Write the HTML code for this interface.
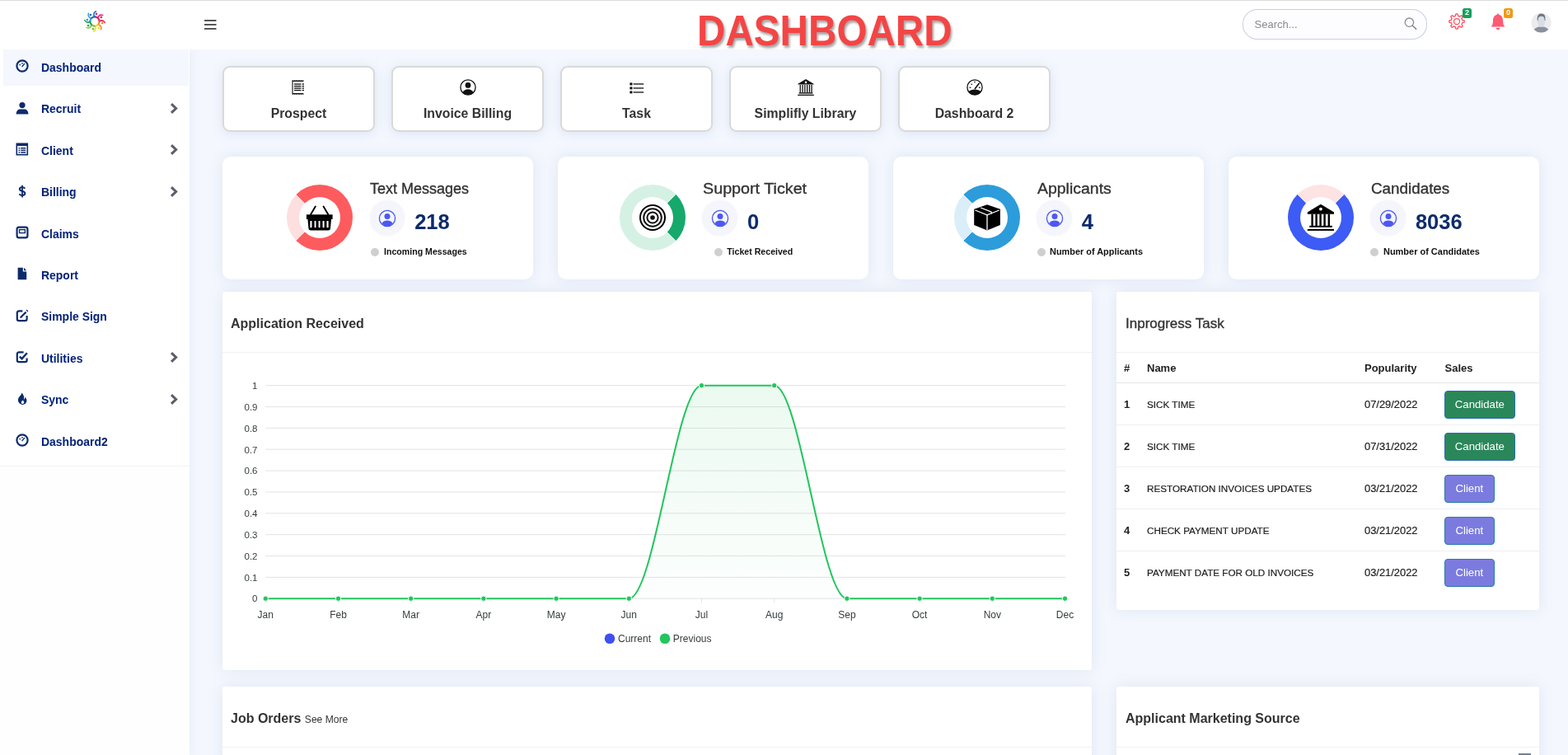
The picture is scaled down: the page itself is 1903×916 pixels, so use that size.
<!DOCTYPE html>
<html><head><meta charset="utf-8"><title>Dashboard</title>
<style>
*{box-sizing:border-box;margin:0;padding:0}
html,body{width:1903px;height:916px;overflow:hidden}
body{position:relative;background:#f4f7fe;font-family:"Liberation Sans",Arial,sans-serif;color:#333}
.abs{position:absolute}
#topline{position:absolute;left:0;top:0;width:1903px;height:1px;background:#dcdcdc;z-index:5}
#header{position:absolute;left:0;top:0;width:1903px;height:60px;background:#fff;z-index:3}
#sidebar{position:absolute;left:0;top:60px;width:230px;height:856px;background:#fefefe;z-index:2;box-shadow:0 0 14px rgba(100,115,170,.10)}
#menu{position:absolute;left:0;top:0;width:230px;height:506px;background:#fff;border-bottom:1px solid #f1f1f3}
.mi{position:absolute;left:4px;width:225px;height:44px}
.mi.active{background:#f4f7fd}
.mi svg.ic{position:absolute;left:15px;top:12.2px}
.mi .lb{position:absolute;left:45.6px;top:-0.3px;line-height:44px;font-size:14.4px;font-weight:bold;color:#03237a;white-space:nowrap;transform:scaleX(.97);transform-origin:0 50%}
.mi .chev{position:absolute;left:202px;top:14.3px}

.card{position:absolute;background:#fff;border-radius:3px;box-shadow:0 0 18px rgba(100,130,180,.14)}
.qb{position:absolute;top:80px;width:185px;height:80px;background:#fff;border:2px solid #d9d9d9;border-radius:9px;box-shadow:0 2px 14px rgba(100,130,180,.16)}
.qb svg{position:absolute;left:50%;top:12.8px;transform:translateX(-50%)}
.qb .t{position:absolute;left:0;right:0;top:46.3px;text-align:center;font-size:15.8px;font-weight:bold;color:#333;white-space:nowrap;line-height:20px}
.sc{top:190px;width:377px;height:149px;border-radius:10px;display:flex;justify-content:center;align-items:flex-start}
.donut{position:relative;width:80px;height:80px;border-radius:50%;margin-top:34px;flex:none}
.donut::after{content:"";position:absolute;left:15px;top:15px;width:50px;height:50px;border-radius:50%;background:#fff}
.donut svg{position:absolute;left:50%;top:50%;transform:translate(-50%,-50%);z-index:1}
.stx{margin-left:20.7px;position:relative;flex:none;height:149px}
.stx .tt{position:absolute;left:0;top:27.8px;font-size:18px;color:#333;line-height:22px;white-space:nowrap;-webkit-text-stroke:0.35px #333}
.uic{position:absolute;left:-0.4px;top:53.3px;width:42.5px;height:42.5px;border-radius:50%;background:#f5f5fc;box-shadow:0 0 3px #f5f5fc}
.uic svg{position:absolute;left:10.7px;top:10.5px}
.num{position:absolute;left:54.2px;top:64px;font-size:25.5px;font-weight:bold;color:#0d2b6b;line-height:30px}
.stx i{position:absolute;left:1.3px;top:110.8px;width:10px;height:10px;border-radius:50%;background:#cfcfcf}
.stx .lb2{position:absolute;left:17.1px;top:109.2px;line-height:12px;font-size:10.6px;font-weight:bold;color:#111;white-space:nowrap}
.ctitle{position:absolute;left:10px;top:0;height:73px;line-height:78.7px;font-size:16px;font-weight:bold;color:#333;white-space:nowrap}
.cdiv{position:absolute;left:0;right:0;top:73px;height:1px;background:#f0f1f4}

.th{position:absolute;left:0;width:513px;top:73.4px;height:37.5px;border-bottom:1.5px solid #e4e6ea;font-size:13px;font-weight:bold;color:#222;line-height:39px}
.tr{position:absolute;left:0;width:513px;height:51px;border-bottom:1px solid #eff0f3;line-height:51px;color:#222}
.tr.last{border-bottom:none}
.th span,.tr span{position:absolute;top:0;white-space:nowrap}
.c1{left:9px;font-weight:bold;font-size:13px}
.c2{left:37px;font-size:11.7px;-webkit-text-stroke:0.2px #222}
.c3{left:301px;font-size:12.9px;-webkit-text-stroke:0.2px #222}
.btn{position:absolute;left:398px;top:9.2px;height:33.5px;line-height:31.5px;text-align:center;color:#fff;font-size:13.2px;border-radius:4px;border:1px solid #2a6fa8}
.btn.g{width:85.7px;background:#2a875a}
.btn.p{width:60.7px;background:#7b7bdf;border-color:#2a7aa8}
</style></head>
<body>
<div id="topline"></div>
<div id="header">
  <!-- logo -->
  <svg class="abs" style="left:101px;top:12px" width="28" height="28" viewBox="0 0 28 28"><path d="M14.49 8.42 A5.6 5.6 0 0 1 18.16 10.25" fill="none" stroke="#e0217a" stroke-width="2.1" stroke-linecap="round"/><path d="M17.99 9.25 Q19.56 5.10 23.77 6.37" fill="none" stroke="#e0217a" stroke-width="1.5" stroke-linecap="round"/><circle cx="15.95" cy="4.81" r="1.35" fill="#e0217a"/><path d="M18.29 10.40 A5.6 5.6 0 0 1 19.59 14.29" fill="none" stroke="#e8205a" stroke-width="2.1" stroke-linecap="round"/><path d="M20.18 13.46 Q24.23 11.64 26.31 15.51" fill="none" stroke="#e8205a" stroke-width="1.5" stroke-linecap="round"/><circle cx="21.88" cy="8.88" r="1.35" fill="#e8205a"/><path d="M19.58 14.49 A5.6 5.6 0 0 1 17.75 18.16" fill="none" stroke="#f5862a" stroke-width="2.1" stroke-linecap="round"/><path d="M18.75 17.99 Q22.90 19.56 21.63 23.77" fill="none" stroke="#f5862a" stroke-width="1.5" stroke-linecap="round"/><circle cx="23.19" cy="15.95" r="1.35" fill="#f5862a"/><path d="M17.60 18.29 A5.6 5.6 0 0 1 13.71 19.59" fill="none" stroke="#e9e019" stroke-width="2.1" stroke-linecap="round"/><path d="M14.54 20.18 Q16.36 24.23 12.49 26.31" fill="none" stroke="#e9e019" stroke-width="1.5" stroke-linecap="round"/><circle cx="19.12" cy="21.88" r="1.35" fill="#e9e019"/><path d="M13.51 19.58 A5.6 5.6 0 0 1 9.84 17.75" fill="none" stroke="#7cc243" stroke-width="2.1" stroke-linecap="round"/><path d="M10.01 18.75 Q8.44 22.90 4.23 21.63" fill="none" stroke="#7cc243" stroke-width="1.5" stroke-linecap="round"/><circle cx="12.05" cy="23.19" r="1.35" fill="#7cc243"/><path d="M9.71 17.60 A5.6 5.6 0 0 1 8.41 13.71" fill="none" stroke="#1fa24a" stroke-width="2.1" stroke-linecap="round"/><path d="M7.82 14.54 Q3.77 16.36 1.69 12.49" fill="none" stroke="#1fa24a" stroke-width="1.5" stroke-linecap="round"/><circle cx="6.12" cy="19.12" r="1.35" fill="#1fa24a"/><path d="M8.42 13.51 A5.6 5.6 0 0 1 10.25 9.84" fill="none" stroke="#2a9fe0" stroke-width="2.1" stroke-linecap="round"/><path d="M9.25 10.01 Q5.10 8.44 6.37 4.23" fill="none" stroke="#2a9fe0" stroke-width="1.5" stroke-linecap="round"/><circle cx="4.81" cy="12.05" r="1.35" fill="#2a9fe0"/><path d="M10.40 9.71 A5.6 5.6 0 0 1 14.29 8.41" fill="none" stroke="#1f6db8" stroke-width="2.1" stroke-linecap="round"/><path d="M13.46 7.82 Q11.64 3.77 15.51 1.69" fill="none" stroke="#1f6db8" stroke-width="1.5" stroke-linecap="round"/><circle cx="8.88" cy="6.12" r="1.35" fill="#1f6db8"/></svg>
  <!-- hamburger -->
  <svg class="abs" style="left:248px;top:24px" width="15" height="12" viewBox="0 0 15 12"><rect x="0" y="0" width="14.5" height="1.8" fill="#454545"/><rect x="0" y="5" width="14.5" height="1.8" fill="#454545"/><rect x="0" y="10" width="14.5" height="1.8" fill="#454545"/></svg>
  <div class="abs" style="left:846px;top:8px;font-size:51.5px;font-weight:bold;color:#f44545;line-height:58px;text-shadow:2px 3px 3px rgba(0,0,0,.35);white-space:nowrap;transform:scaleX(.925);transform-origin:0 0">DASHBOARD</div>

  <div class="abs" style="left:1508px;top:11px;width:224px;height:36.5px;border:1px solid #c9cee6;border-left-color:#cfd0d8;border-radius:18px;background:#fdfdff"></div>
  <div class="abs" style="left:1522.5px;top:12px;line-height:36px;font-size:13px;color:#8a8a8a;white-space:nowrap">Search...</div>
  <svg class="abs" style="left:1704px;top:21px" width="16" height="15" viewBox="0 0 16 15"><circle cx="6.4" cy="6.2" r="5.2" fill="none" stroke="#8c8c8c" stroke-width="1.3"/><path d="M10.2 10 L14.6 14.2" stroke="#8c8c8c" stroke-width="1.6" stroke-linecap="round"/></svg>
  <svg class="abs" style="left:1758px;top:16px" width="20" height="20" viewBox="0 0 20 20"><path d="M8.34 3.30 L8.92 0.86 A9.2 9.2 0 0 1 11.08 0.86 L11.66 3.30 A6.9 6.9 0 0 1 13.56 4.09 L15.70 2.78 A9.2 9.2 0 0 1 17.22 4.30 L15.91 6.44 A6.9 6.9 0 0 1 16.70 8.34 L19.14 8.92 A9.2 9.2 0 0 1 19.14 11.08 L16.70 11.66 A6.9 6.9 0 0 1 15.91 13.56 L17.22 15.70 A9.2 9.2 0 0 1 15.70 17.22 L13.56 15.91 A6.9 6.9 0 0 1 11.66 16.70 L11.08 19.14 A9.2 9.2 0 0 1 8.92 19.14 L8.34 16.70 A6.9 6.9 0 0 1 6.44 15.91 L4.30 17.22 A9.2 9.2 0 0 1 2.78 15.70 L4.09 13.56 A6.9 6.9 0 0 1 3.30 11.66 L0.86 11.08 A9.2 9.2 0 0 1 0.86 8.92 L3.30 8.34 A6.9 6.9 0 0 1 4.09 6.44 L2.78 4.30 A9.2 9.2 0 0 1 4.30 2.78 L6.44 4.09 A6.9 6.9 0 0 1 8.34 3.30 Z" fill="none" stroke="#ff4d5e" stroke-width="1.3" stroke-linejoin="round"/><circle cx="10" cy="10" r="3.5" fill="none" stroke="#ff4d5e" stroke-width="1.25"/></svg>
  <div class="abs" style="left:1775px;top:10px;width:11px;height:11.8px;border-radius:2.5px;background:#14a05a;color:#fff;font-size:9px;font-weight:bold;line-height:11.8px;text-align:center">2</div>
  <svg class="abs" style="left:1809px;top:15.5px" width="18" height="21" viewBox="0 0 18 21"><path d="M9 0.6 C9.8 0.6 10.2 1.2 10.2 1.8 C13.6 2.6 15 5.6 15 9 C15 12.6 15.6 14.4 17.4 16.6 H0.6 C2.4 14.4 3 12.6 3 9 C3 5.6 4.4 2.6 7.8 1.8 C7.8 1.2 8.2 0.6 9 0.6 Z" fill="#ff5a72"/><path d="M6.6 17.8 H11.4 C11.4 19.2 10.4 20.2 9 20.2 C7.6 20.2 6.6 19.2 6.6 17.8 Z" fill="#ff5a72"/></svg>
  <div class="abs" style="left:1825px;top:10px;width:11px;height:11.8px;border-radius:2.5px;background:#f09a16;color:#fff;font-size:9px;font-weight:bold;line-height:11.8px;text-align:center">0</div>
  <svg class="abs" style="left:1858px;top:15px" width="25" height="25" viewBox="0 0 25 25"><defs><clipPath id="avc"><circle cx="12.5" cy="12.5" r="12"/></clipPath></defs><circle cx="12.5" cy="12.5" r="12" fill="#ececee"/><g clip-path="url(#avc)"><path d="M2 25 C3 19.5 6.5 17.5 12.5 17.2 C18.5 17.5 22 19.5 23 25 Z" fill="#8a919c"/><path d="M8.2 6.5 C8.2 3.2 10 2 12.6 2 C15.4 2 17 3.4 17 6.6 L17 12 C16.8 15.4 14.8 17.8 12.6 17.8 C10.2 17.8 8.4 15.4 8.2 12 Z" fill="#d9dde6"/><path d="M7.8 10 C7.2 4.6 9 1.6 12.6 1.6 C16.4 1.6 18 4.4 17.4 10 L16.6 10 C16.6 6.6 15.6 4.8 12.6 4.8 C9.6 4.8 8.6 6.6 8.6 10 Z" fill="#6f7782"/></g></svg>
</div>
<div id="main">
<div class="qb" style="left:270px"><svg width="22" height="22" viewBox="0 0 22 22"><path d="M2.5 2.2 h1.2 l0.7 0.8 l0.7 -0.8 h1.2 l0.7 0.8 l0.7 -0.8 h1.2 l0.7 0.8 l0.7 -0.8 h1.2 l0.7 0.8 l0.7 -0.8 h1.2 l0.7 0.8 l0.7 -0.8 h0.9 V19.8 h-0.9 l-0.7 -0.8 l-0.7 0.8 h-1.2 l-0.7 -0.8 l-0.7 0.8 h-1.2 l-0.7 -0.8 l-0.7 0.8 h-1.2 l-0.7 -0.8 l-0.7 0.8 h-1.2 l-0.7 -0.8 l-0.7 0.8 h-1.2 Z" fill="#111"/><rect x="3.6" y="4" width="14.8" height="14" fill="#fff"/><rect x="5" y="6.4" width="8.4" height="1.3" fill="#111"/><rect x="14.6" y="6.4" width="2.4" height="1.3" fill="#111"/><rect x="5" y="8.9" width="8.4" height="1.3" fill="#111"/><rect x="14.6" y="8.9" width="2.4" height="1.3" fill="#111"/><rect x="5" y="11.4" width="8.4" height="1.3" fill="#111"/><rect x="14.6" y="11.4" width="2.4" height="1.3" fill="#111"/><rect x="5" y="13.9" width="8.4" height="1.3" fill="#111"/><rect x="14.6" y="13.9" width="2.4" height="1.3" fill="#111"/></svg><div class="t">Prospect</div></div>
<div class="qb" style="left:475px"><svg width="22" height="22" viewBox="0 0 22 22"><circle cx="11" cy="11" r="9.1" fill="none" stroke="#111" stroke-width="1.3"/><circle cx="11" cy="8.4" r="3.4" fill="#111"/><path d="M4.6 17.2 C6 14.2 8.2 13.2 11 13.2 C13.8 13.2 16 14.2 17.4 17.2 C15.8 19 13.6 20 11 20 C8.4 20 6.2 19 4.6 17.2 Z" fill="#111"/></svg><div class="t">Invoice Billing</div></div>
<div class="qb" style="left:680px"><svg width="22" height="22" viewBox="0 0 22 22"><rect x="2.4" y="5.4" width="3" height="3" fill="#111"/><rect x="2.4" y="10.4" width="3" height="3" fill="#111"/><rect x="2.4" y="15.4" width="3" height="3" fill="#111"/><rect x="6.6" y="6.3" width="12.6" height="1.3" fill="#111"/><rect x="6.6" y="11.3" width="12.6" height="1.3" fill="#111"/><rect x="6.6" y="16.3" width="12.6" height="1.3" fill="#111"/></svg><div class="t">Task</div></div>
<div class="qb" style="left:885px"><svg width="22" height="22" viewBox="0 0 22 22"><path d="M11 1 L20.6 6.8 V7.6 H1.4 V6.8 Z" fill="#111"/><circle cx="11" cy="4.9" r="1.3" fill="#fff"/><rect x="3.6" y="8" width="1.3" height="9.3" fill="#111"/><rect x="6.4" y="8" width="1.3" height="9.3" fill="#111"/><rect x="9.2" y="8" width="1.3" height="9.3" fill="#111"/><rect x="12" y="8" width="1.3" height="9.3" fill="#111"/><rect x="14.8" y="8" width="1.3" height="9.3" fill="#111"/><rect x="17.4" y="8" width="1.3" height="9.3" fill="#111"/><rect x="2.6" y="17.2" width="16.8" height="1.4" fill="#111"/><rect x="1.2" y="19.7" width="19.6" height="1.3" fill="#111"/></svg><div class="t">Simplifly Library</div></div>
<div class="qb" style="left:1090px"><svg width="22" height="22" viewBox="0 0 22 22"><circle cx="11" cy="11" r="9.1" fill="none" stroke="#111" stroke-width="1.3"/><path d="M3.4 16.2 C5.4 14.6 8 13.6 11 13.6 C14 13.6 16.6 14.6 18.6 16.2 C17 18.6 14.2 20.1 11 20.1 C7.8 20.1 5 18.6 3.4 16.2 Z" fill="#111"/><path d="M11.4 12.6 L16.2 6.2" stroke="#111" stroke-width="1.6" stroke-linecap="round"/><rect x="4.4" y="10.6" width="2" height="1.2" fill="#111"/><rect x="15.8" y="10.6" width="2" height="1.2" fill="#111"/><path d="M6.6 6.6 L7.8 7.8" stroke="#111" stroke-width="1.1"/><path d="M11 3.6 V5.6" stroke="#111" stroke-width="1.1"/></svg><div class="t">Dashboard 2</div></div>
<div class="card sc" style="left:270px"><div class="donut" style="background:conic-gradient(#fe5b5e 0 225deg,#fddfe0 225deg 315deg,#fe5b5e 315deg)"><svg width="34" height="34" viewBox="0 0 34 34"><path d="M6.2 13 L11.8 3.6" stroke="#000" stroke-width="1.9" stroke-linecap="round"/><path d="M27.2 13 L21.6 3.6" stroke="#000" stroke-width="1.9" stroke-linecap="round"/><rect x="0.9" y="13.3" width="31.7" height="5.6" fill="#000"/><path d="M2.4 18.6 H31.1 L30 30.2 C29.9 31.6 29 32.4 27.6 32.4 H5.9 C4.5 32.4 3.6 31.6 3.5 30.2 Z" fill="#000"/><rect x="5.4" y="21" width="2.1" height="8.2" rx="0.6" fill="#fff"/><rect x="10.6" y="21" width="1.9" height="8.2" rx="0.6" fill="#fff"/><rect x="15.6" y="21" width="1.9" height="8.2" rx="0.6" fill="#fff"/><rect x="20.6" y="21" width="2" height="8.2" rx="0.6" fill="#fff"/><rect x="25.5" y="21" width="2.1" height="8.2" rx="0.6" fill="#fff"/></svg></div><div class="stx" style="width:119.8px"><div class="tt">Text Messages</div><div class="uic"><svg width="22" height="22" viewBox="0 0 22 22"><circle cx="11" cy="11" r="9.6" fill="none" stroke="#4b58f2" stroke-width="1.3"/><circle cx="11" cy="8.4" r="3.5" fill="#4b58f2"/><path d="M4.4 17 C5.8 14.2 8.2 13.4 11 13.4 C13.8 13.4 16.2 14.2 17.6 17 C16 19 13.6 20.4 11 20.4 C8.4 20.4 6 19 4.4 17 Z" fill="#4b58f2"/></svg></div><div class="num">218</div><i style="left:1.3px"></i><span class="lb2" style="left:17.1px">Incoming Messages</span></div></div>
<div class="card sc" style="left:677px"><div class="donut" style="background:conic-gradient(#d5f1e4 0 45deg,#16a96b 45deg 135deg,#d5f1e4 135deg)"><svg width="34" height="34" viewBox="0 0 34 34"><circle cx="17" cy="17" r="15" fill="none" stroke="#000" stroke-width="2"/><circle cx="17" cy="17" r="10.8" fill="none" stroke="#111" stroke-width="2"/><circle cx="17" cy="17" r="6.6" fill="none" stroke="#111" stroke-width="2"/><circle cx="17" cy="17" r="2.8" fill="#111"/></svg></div><div class="stx" style="width:126.2px"><div class="tt" style="transform:scaleX(1.096);transform-origin:0 0">Support Ticket</div><div class="uic"><svg width="22" height="22" viewBox="0 0 22 22"><circle cx="11" cy="11" r="9.6" fill="none" stroke="#4b58f2" stroke-width="1.3"/><circle cx="11" cy="8.4" r="3.5" fill="#4b58f2"/><path d="M4.4 17 C5.8 14.2 8.2 13.4 11 13.4 C13.8 13.4 16.2 14.2 17.6 17 C16 19 13.6 20.4 11 20.4 C8.4 20.4 6 19 4.4 17 Z" fill="#4b58f2"/></svg></div><div class="num">0</div><i style="left:13.8px"></i><span class="lb2" style="left:29.6px">Ticket Received</span></div></div>
<div class="card sc" style="left:1084px"><div class="donut" style="background:conic-gradient(#2d9cdb 0 225deg,#daeef9 225deg 315deg,#2d9cdb 315deg)"><svg width="34" height="34" viewBox="0 0 34 34"><path d="M17 1.3 L32.9 6.8 V25.9 L17 32.4 L1.2 25.9 V6.8 Z" fill="#000"/><path d="M2.4 8 L17 13.9 L31.7 8" stroke="#fff" stroke-width="1.3" fill="none"/><path d="M17 13.9 V32" stroke="#fff" stroke-width="1.3"/><path d="M9.2 5 L22.2 10.1 V12.4" stroke="#fff" stroke-width="1.3" fill="none"/></svg></div><div class="stx" style="width:128.5px"><div class="tt" style="transform:scaleX(1.081);transform-origin:0 0">Applicants</div><div class="uic"><svg width="22" height="22" viewBox="0 0 22 22"><circle cx="11" cy="11" r="9.6" fill="none" stroke="#4b58f2" stroke-width="1.3"/><circle cx="11" cy="8.4" r="3.5" fill="#4b58f2"/><path d="M4.4 17 C5.8 14.2 8.2 13.4 11 13.4 C13.8 13.4 16.2 14.2 17.6 17 C16 19 13.6 20.4 11 20.4 C8.4 20.4 6 19 4.4 17 Z" fill="#4b58f2"/></svg></div><div class="num">4</div><i style="left:0px"></i><span class="lb2" style="left:15.8px;transform:scaleX(1.03);transform-origin:0 0">Number of Applicants</span></div></div>
<div class="card sc" style="left:1491px"><div class="donut" style="background:conic-gradient(#fde3e4 0 45deg,#3d5bf5 45deg 315deg,#fde3e4 315deg)"><svg width="34" height="34" viewBox="0 0 34 34"><path d="M16.9 0.8 L33 10.4 V12.8 H0.8 V10.4 Z" fill="#000"/><circle cx="16.9" cy="6.6" r="1.9" fill="#fff"/><rect x="5.4" y="12.6" width="2.4" height="14.6" fill="#000"/><rect x="10.4" y="12.6" width="2.4" height="14.6" fill="#000"/><rect x="15.4" y="12.6" width="2.4" height="14.6" fill="#000"/><rect x="20.4" y="12.6" width="2.4" height="14.6" fill="#000"/><rect x="25.6" y="12.6" width="2.4" height="14.6" fill="#000"/><rect x="3.2" y="26.8" width="27.6" height="2" fill="#000"/><rect x="0.8" y="30.9" width="32.2" height="2" fill="#000"/></svg></div><div class="stx" style="width:132.2px"><div class="tt" style="transform:scaleX(1.046);transform-origin:0 0">Candidates</div><div class="uic"><svg width="22" height="22" viewBox="0 0 22 22"><circle cx="11" cy="11" r="9.6" fill="none" stroke="#4b58f2" stroke-width="1.3"/><circle cx="11" cy="8.4" r="3.5" fill="#4b58f2"/><path d="M4.4 17 C5.8 14.2 8.2 13.4 11 13.4 C13.8 13.4 16.2 14.2 17.6 17 C16 19 13.6 20.4 11 20.4 C8.4 20.4 6 19 4.4 17 Z" fill="#4b58f2"/></svg></div><div class="num">8036</div><i style="left:-0.3px"></i><span class="lb2" style="left:15.5px;transform:scaleX(1.035);transform-origin:0 0">Number of Candidates</span></div></div>
<div class="card" id="chartcard" style="left:270px;top:354px;width:1055px;height:459px"><div class="ctitle">Application Received</div><div class="cdiv"></div><svg class="abs" style="left:0;top:0" width="1055" height="459" viewBox="270 354 1055 459" font-family="Liberation Sans, Arial, sans-serif"><defs><linearGradient id="gf" x1="0" y1="0" x2="0" y2="1"><stop offset="0" stop-color="#22c55e" stop-opacity="0.09"/><stop offset="1" stop-color="#22c55e" stop-opacity="0.01"/></linearGradient></defs><line x1="322.3" x2="1293" y1="467.7" y2="467.7" stroke="#e3e3e3" stroke-width="1"/><text x="312.5" y="471.9" text-anchor="end" font-size="11.5" fill="#373d3f">1</text><line x1="322.3" x2="1293" y1="493.6" y2="493.6" stroke="#e3e3e3" stroke-width="1"/><text x="312.5" y="497.8" text-anchor="end" font-size="11.5" fill="#373d3f">0.9</text><line x1="322.3" x2="1293" y1="519.4" y2="519.4" stroke="#e3e3e3" stroke-width="1"/><text x="312.5" y="523.6" text-anchor="end" font-size="11.5" fill="#373d3f">0.8</text><line x1="322.3" x2="1293" y1="545.2" y2="545.2" stroke="#e3e3e3" stroke-width="1"/><text x="312.5" y="549.5" text-anchor="end" font-size="11.5" fill="#373d3f">0.7</text><line x1="322.3" x2="1293" y1="571.1" y2="571.1" stroke="#e3e3e3" stroke-width="1"/><text x="312.5" y="575.3" text-anchor="end" font-size="11.5" fill="#373d3f">0.6</text><line x1="322.3" x2="1293" y1="597.0" y2="597.0" stroke="#e3e3e3" stroke-width="1"/><text x="312.5" y="601.2" text-anchor="end" font-size="11.5" fill="#373d3f">0.5</text><line x1="322.3" x2="1293" y1="622.8" y2="622.8" stroke="#e3e3e3" stroke-width="1"/><text x="312.5" y="627.0" text-anchor="end" font-size="11.5" fill="#373d3f">0.4</text><line x1="322.3" x2="1293" y1="648.7" y2="648.7" stroke="#e3e3e3" stroke-width="1"/><text x="312.5" y="652.9" text-anchor="end" font-size="11.5" fill="#373d3f">0.3</text><line x1="322.3" x2="1293" y1="674.5" y2="674.5" stroke="#e3e3e3" stroke-width="1"/><text x="312.5" y="678.7" text-anchor="end" font-size="11.5" fill="#373d3f">0.2</text><line x1="322.3" x2="1293" y1="700.4" y2="700.4" stroke="#e3e3e3" stroke-width="1"/><text x="312.5" y="704.6" text-anchor="end" font-size="11.5" fill="#373d3f">0.1</text><line x1="322.3" x2="1293" y1="726.2" y2="726.2" stroke="#e3e3e3" stroke-width="1"/><text x="312.5" y="730.4" text-anchor="end" font-size="11.5" fill="#373d3f">0</text><text x="322.3" y="750" text-anchor="middle" font-size="12" fill="#373d3f">Jan</text><line x1="322.3" x2="322.3" y1="726.2" y2="731.2" stroke="#e3e3e3"/><text x="410.5" y="750" text-anchor="middle" font-size="12" fill="#373d3f">Feb</text><line x1="410.5" x2="410.5" y1="726.2" y2="731.2" stroke="#e3e3e3"/><text x="498.7" y="750" text-anchor="middle" font-size="12" fill="#373d3f">Mar</text><line x1="498.7" x2="498.7" y1="726.2" y2="731.2" stroke="#e3e3e3"/><text x="586.9" y="750" text-anchor="middle" font-size="12" fill="#373d3f">Apr</text><line x1="586.9" x2="586.9" y1="726.2" y2="731.2" stroke="#e3e3e3"/><text x="675.1" y="750" text-anchor="middle" font-size="12" fill="#373d3f">May</text><line x1="675.1" x2="675.1" y1="726.2" y2="731.2" stroke="#e3e3e3"/><text x="763.3" y="750" text-anchor="middle" font-size="12" fill="#373d3f">Jun</text><line x1="763.3" x2="763.3" y1="726.2" y2="731.2" stroke="#e3e3e3"/><text x="851.5" y="750" text-anchor="middle" font-size="12" fill="#373d3f">Jul</text><line x1="851.5" x2="851.5" y1="726.2" y2="731.2" stroke="#e3e3e3"/><text x="939.7" y="750" text-anchor="middle" font-size="12" fill="#373d3f">Aug</text><line x1="939.7" x2="939.7" y1="726.2" y2="731.2" stroke="#e3e3e3"/><text x="1027.9" y="750" text-anchor="middle" font-size="12" fill="#373d3f">Sep</text><line x1="1027.9" x2="1027.9" y1="726.2" y2="731.2" stroke="#e3e3e3"/><text x="1116.1" y="750" text-anchor="middle" font-size="12" fill="#373d3f">Oct</text><line x1="1116.1" x2="1116.1" y1="726.2" y2="731.2" stroke="#e3e3e3"/><text x="1204.3" y="750" text-anchor="middle" font-size="12" fill="#373d3f">Nov</text><line x1="1204.3" x2="1204.3" y1="726.2" y2="731.2" stroke="#e3e3e3"/><text x="1292.5" y="750" text-anchor="middle" font-size="12" fill="#373d3f">Dec</text><line x1="1292.5" x2="1292.5" y1="726.2" y2="731.2" stroke="#e3e3e3"/><path d="M322.3 726.2 L410.5 726.2 L498.7 726.2 L586.9 726.2 L675.1 726.2 L763.3 726.2 C794.2 726.2 820.6 467.7 851.5 467.7 L939.7 467.7 C970.6 467.7 997.0 726.2 1027.9 726.2 L1116.1 726.2 L1204.3 726.2 L1292.5 726.2 L1292.5 726.2 L322.3 726.2 Z" fill="url(#gf)"/><path d="M322.3 726.2 L410.5 726.2 L498.7 726.2 L586.9 726.2 L675.1 726.2 L763.3 726.2 C794.2 726.2 820.6 467.7 851.5 467.7 L939.7 467.7 C970.6 467.7 997.0 726.2 1027.9 726.2 L1116.1 726.2 L1204.3 726.2 L1292.5 726.2" fill="none" stroke="#22c55e" stroke-width="2"/><circle cx="322.3" cy="726.2" r="3.2" fill="#22c55e" stroke="#fff" stroke-width="1"/><circle cx="410.5" cy="726.2" r="3.2" fill="#22c55e" stroke="#fff" stroke-width="1"/><circle cx="498.7" cy="726.2" r="3.2" fill="#22c55e" stroke="#fff" stroke-width="1"/><circle cx="586.9" cy="726.2" r="3.2" fill="#22c55e" stroke="#fff" stroke-width="1"/><circle cx="675.1" cy="726.2" r="3.2" fill="#22c55e" stroke="#fff" stroke-width="1"/><circle cx="763.3" cy="726.2" r="3.2" fill="#22c55e" stroke="#fff" stroke-width="1"/><circle cx="851.5" cy="467.7" r="3.2" fill="#22c55e" stroke="#fff" stroke-width="1"/><circle cx="939.7" cy="467.7" r="3.2" fill="#22c55e" stroke="#fff" stroke-width="1"/><circle cx="1027.9" cy="726.2" r="3.2" fill="#22c55e" stroke="#fff" stroke-width="1"/><circle cx="1116.1" cy="726.2" r="3.2" fill="#22c55e" stroke="#fff" stroke-width="1"/><circle cx="1204.3" cy="726.2" r="3.2" fill="#22c55e" stroke="#fff" stroke-width="1"/><circle cx="1292.5" cy="726.2" r="3.2" fill="#22c55e" stroke="#fff" stroke-width="1"/><circle cx="740" cy="774.8" r="6.3" fill="#4050f0"/><text x="750" y="779" font-size="12" fill="#373d3f">Current</text><circle cx="807" cy="774.8" r="6.3" fill="#22c55e"/><text x="816.8" y="779" font-size="12" fill="#373d3f">Previous</text></svg></div>
<div class="card" id="taskcard" style="left:1355px;top:354px;width:513px;height:386px"><div class="ctitle" style="left:11px;font-weight:normal;font-size:17px;line-height:77.4px;-webkit-text-stroke:0.35px #333">Inprogress Task</div><div class="cdiv"></div><div class="th"><span class="c1" style="left:9px">#</span><span style="left:37px">Name</span><span style="left:301px">Popularity</span><span style="left:398.6px">Sales</span></div><div class="tr" style="top:111px"><span class="c1">1</span><span class="c2">SICK TIME</span><span class="c3">07/29/2022</span><div class="btn g">Candidate</div></div><div class="tr" style="top:162px"><span class="c1">2</span><span class="c2">SICK TIME</span><span class="c3">07/31/2022</span><div class="btn g">Candidate</div></div><div class="tr" style="top:213px"><span class="c1">3</span><span class="c2">RESTORATION INVOICES UPDATES</span><span class="c3">03/21/2022</span><div class="btn p">Client</div></div><div class="tr" style="top:264px"><span class="c1">4</span><span class="c2">CHECK PAYMENT UPDATE</span><span class="c3">03/21/2022</span><div class="btn p">Client</div></div><div class="tr last" style="top:315px"><span class="c1">5</span><span class="c2">PAYMENT DATE FOR OLD INVOICES</span><span class="c3">03/21/2022</span><div class="btn p">Client</div></div></div>
<div class="card" style="left:270px;top:833px;width:1055px;height:120px"><div class="ctitle">Job Orders <span style="font-size:12.1px;font-weight:normal;color:#333">See More</span></div><div class="cdiv"></div></div>
<div class="card" style="left:1355px;top:833px;width:513px;height:120px"><div class="ctitle" style="left:11px">Applicant Marketing Source</div><div class="cdiv"></div><div class="abs" style="left:488px;top:80.6px;width:15px;height:2px;background:#6e8192"></div></div>
</div>
<div id="sidebar">
  <div id="menu">
    <div class="mi active" style="top:0.2px"><svg class="ic" width="16" height="16" viewBox="0 0 16 16"><circle cx="8" cy="8" r="6.6" fill="none" stroke="#0d2b6b" stroke-width="2.2"/><circle cx="5.2" cy="6.6" r="0.9" fill="#0d2b6b"/><circle cx="8" cy="4.8" r="0.9" fill="#0d2b6b"/><path d="M8 8.6 L10.6 5.4" stroke="#0d2b6b" stroke-width="1.4" stroke-linecap="round"/></svg><span class="lb">Dashboard</span></div>
    <div class="mi" style="top:50.6px"><svg class="ic" width="16" height="16" viewBox="0 0 16 16"><circle cx="8" cy="4.6" r="3.6" fill="#0d2b6b"/><path d="M0.6 15.6 C0.6 11.2 3.2 9.4 5.2 9.4 L10.8 9.4 C12.8 9.4 15.4 11.2 15.4 15.6 Z" fill="#0d2b6b"/></svg><span class="lb">Recruit</span><svg class="chev" width="10" height="13" viewBox="0 0 10 13"><path d="M2 1.2 L7.6 6.5 L2 11.8" fill="none" stroke="#5d5d68" stroke-width="3"/></svg></div>
    <div class="mi" style="top:101.0px"><svg class="ic" width="16" height="16" viewBox="0 0 16 16"><rect x="1.3" y="1.3" width="13" height="13.4" fill="none" stroke="#0d2b6b" stroke-width="1.6"/><rect x="1" y="1" width="13.6" height="3" fill="#0d2b6b"/><rect x="3.6" y="6" width="1.6" height="1.5" fill="#0d2b6b"/><rect x="6.2" y="6" width="6" height="1.5" fill="#0d2b6b"/><rect x="3.6" y="8.6" width="1.6" height="1.5" fill="#0d2b6b"/><rect x="6.2" y="8.6" width="6" height="1.5" fill="#0d2b6b"/><rect x="3.6" y="11.2" width="1.6" height="1.5" fill="#0d2b6b"/><rect x="6.2" y="11.2" width="6" height="1.5" fill="#0d2b6b"/></svg><span class="lb">Client</span><svg class="chev" width="10" height="13" viewBox="0 0 10 13"><path d="M2 1.2 L7.6 6.5 L2 11.8" fill="none" stroke="#5d5d68" stroke-width="3"/></svg></div>
    <div class="mi" style="top:151.5px"><svg class="ic" width="16" height="16" viewBox="0 0 16 16"><path d="M11.4 4.6 C10.6 3.6 9.4 3.2 8 3.2 C6 3.2 4.8 4.2 4.8 5.6 C4.8 8.8 11.4 7.2 11.4 10.6 C11.4 12.1 10 13 8 13 C6.4 13 5.2 12.4 4.4 11.4" fill="none" stroke="#0d2b6b" stroke-width="2"/><path d="M8 0.8 V15.4" stroke="#0d2b6b" stroke-width="1.8"/></svg><span class="lb">Billing</span><svg class="chev" width="10" height="13" viewBox="0 0 10 13"><path d="M2 1.2 L7.6 6.5 L2 11.8" fill="none" stroke="#5d5d68" stroke-width="3"/></svg></div>
    <div class="mi" style="top:201.9px"><svg class="ic" width="16" height="16" viewBox="0 0 16 16"><rect x="1.6" y="1.6" width="12.8" height="12.8" rx="2.4" fill="none" stroke="#0d2b6b" stroke-width="2.2"/><rect x="4.6" y="4.6" width="6.8" height="4" fill="none" stroke="#0d2b6b" stroke-width="1.4"/></svg><span class="lb">Claims</span></div>
    <div class="mi" style="top:252.3px"><svg class="ic" width="16" height="16" viewBox="0 0 16 16"><path d="M2.6 0.8 H8.8 V5.6 H13.2 V15.2 H2.6 Z" fill="#0d2b6b"/><path d="M10 0.8 L13.2 4.2 H10 Z" fill="#0d2b6b"/></svg><span class="lb">Report</span></div>
    <div class="mi" style="top:302.7px"><svg class="ic" width="16" height="16" viewBox="0 0 16 16"><path d="M8.4 2.4 H4 C2.6 2.4 1.8 3.2 1.8 4.6 V12 C1.8 13.4 2.6 14.2 4 14.2 H11.4 C12.8 14.2 13.6 13.4 13.6 12 V8" fill="none" stroke="#0d2b6b" stroke-width="2.2"/><path d="M6.4 9.8 L12.6 3.6" stroke="#0d2b6b" stroke-width="2.2"/><path d="M13.6 0.6 L15.4 2.4 L14.4 3.4 L12.6 1.6 Z" fill="#0d2b6b"/><path d="M5.6 8.4 L5.2 11 L7.8 10.6 Z" fill="#0d2b6b"/></svg><span class="lb">Simple Sign</span></div>
    <div class="mi" style="top:353.1px"><svg class="ic" width="16" height="16" viewBox="0 0 16 16"><path d="M9.6 2.4 H4 C2.6 2.4 1.8 3.2 1.8 4.6 V12 C1.8 13.4 2.6 14.2 4 14.2 H11.4 C12.8 14.2 13.6 13.4 13.6 12 V9.6" fill="none" stroke="#0d2b6b" stroke-width="2.2"/><path d="M4.8 7.6 L7.6 10.2 L13.8 3.2" fill="none" stroke="#0d2b6b" stroke-width="2.4"/></svg><span class="lb">Utilities</span><svg class="chev" width="10" height="13" viewBox="0 0 10 13"><path d="M2 1.2 L7.6 6.5 L2 11.8" fill="none" stroke="#5d5d68" stroke-width="3"/></svg></div>
    <div class="mi" style="top:403.6px"><svg class="ic" width="16" height="16" viewBox="0 0 16 16"><path d="M7.2 0.6 C7.6 3 5.4 4 4 6 C2.6 8 2.6 10.4 3.8 12.2 C5 14 7 15 8.6 15 C11 15 13.2 13.4 13.4 10.6 C13.6 8.6 12.6 6.8 11.4 5.8 C11.4 7.4 10.6 8.4 9.8 8.8 C10.8 6 9.6 2.4 7.2 0.6 Z M8.4 9.6 C9.6 10.4 10.4 11.4 10.2 12.6 C10 13.6 9.2 14 8.4 14 C7.4 14 6.6 13.2 6.8 12 C7 11 7.8 10.6 8.4 9.6 Z" fill="#0d2b6b" fill-rule="evenodd"/></svg><span class="lb">Sync</span><svg class="chev" width="10" height="13" viewBox="0 0 10 13"><path d="M2 1.2 L7.6 6.5 L2 11.8" fill="none" stroke="#5d5d68" stroke-width="3"/></svg></div>
    <div class="mi" style="top:454.0px"><svg class="ic" width="16" height="16" viewBox="0 0 16 16"><circle cx="8" cy="8" r="6.6" fill="none" stroke="#0d2b6b" stroke-width="2.2"/><circle cx="5.2" cy="6.6" r="0.9" fill="#0d2b6b"/><circle cx="8" cy="4.8" r="0.9" fill="#0d2b6b"/><path d="M8 8.6 L10.6 5.4" stroke="#0d2b6b" stroke-width="1.4" stroke-linecap="round"/></svg><span class="lb">Dashboard2</span></div>
  </div>
</div>
</body></html>
